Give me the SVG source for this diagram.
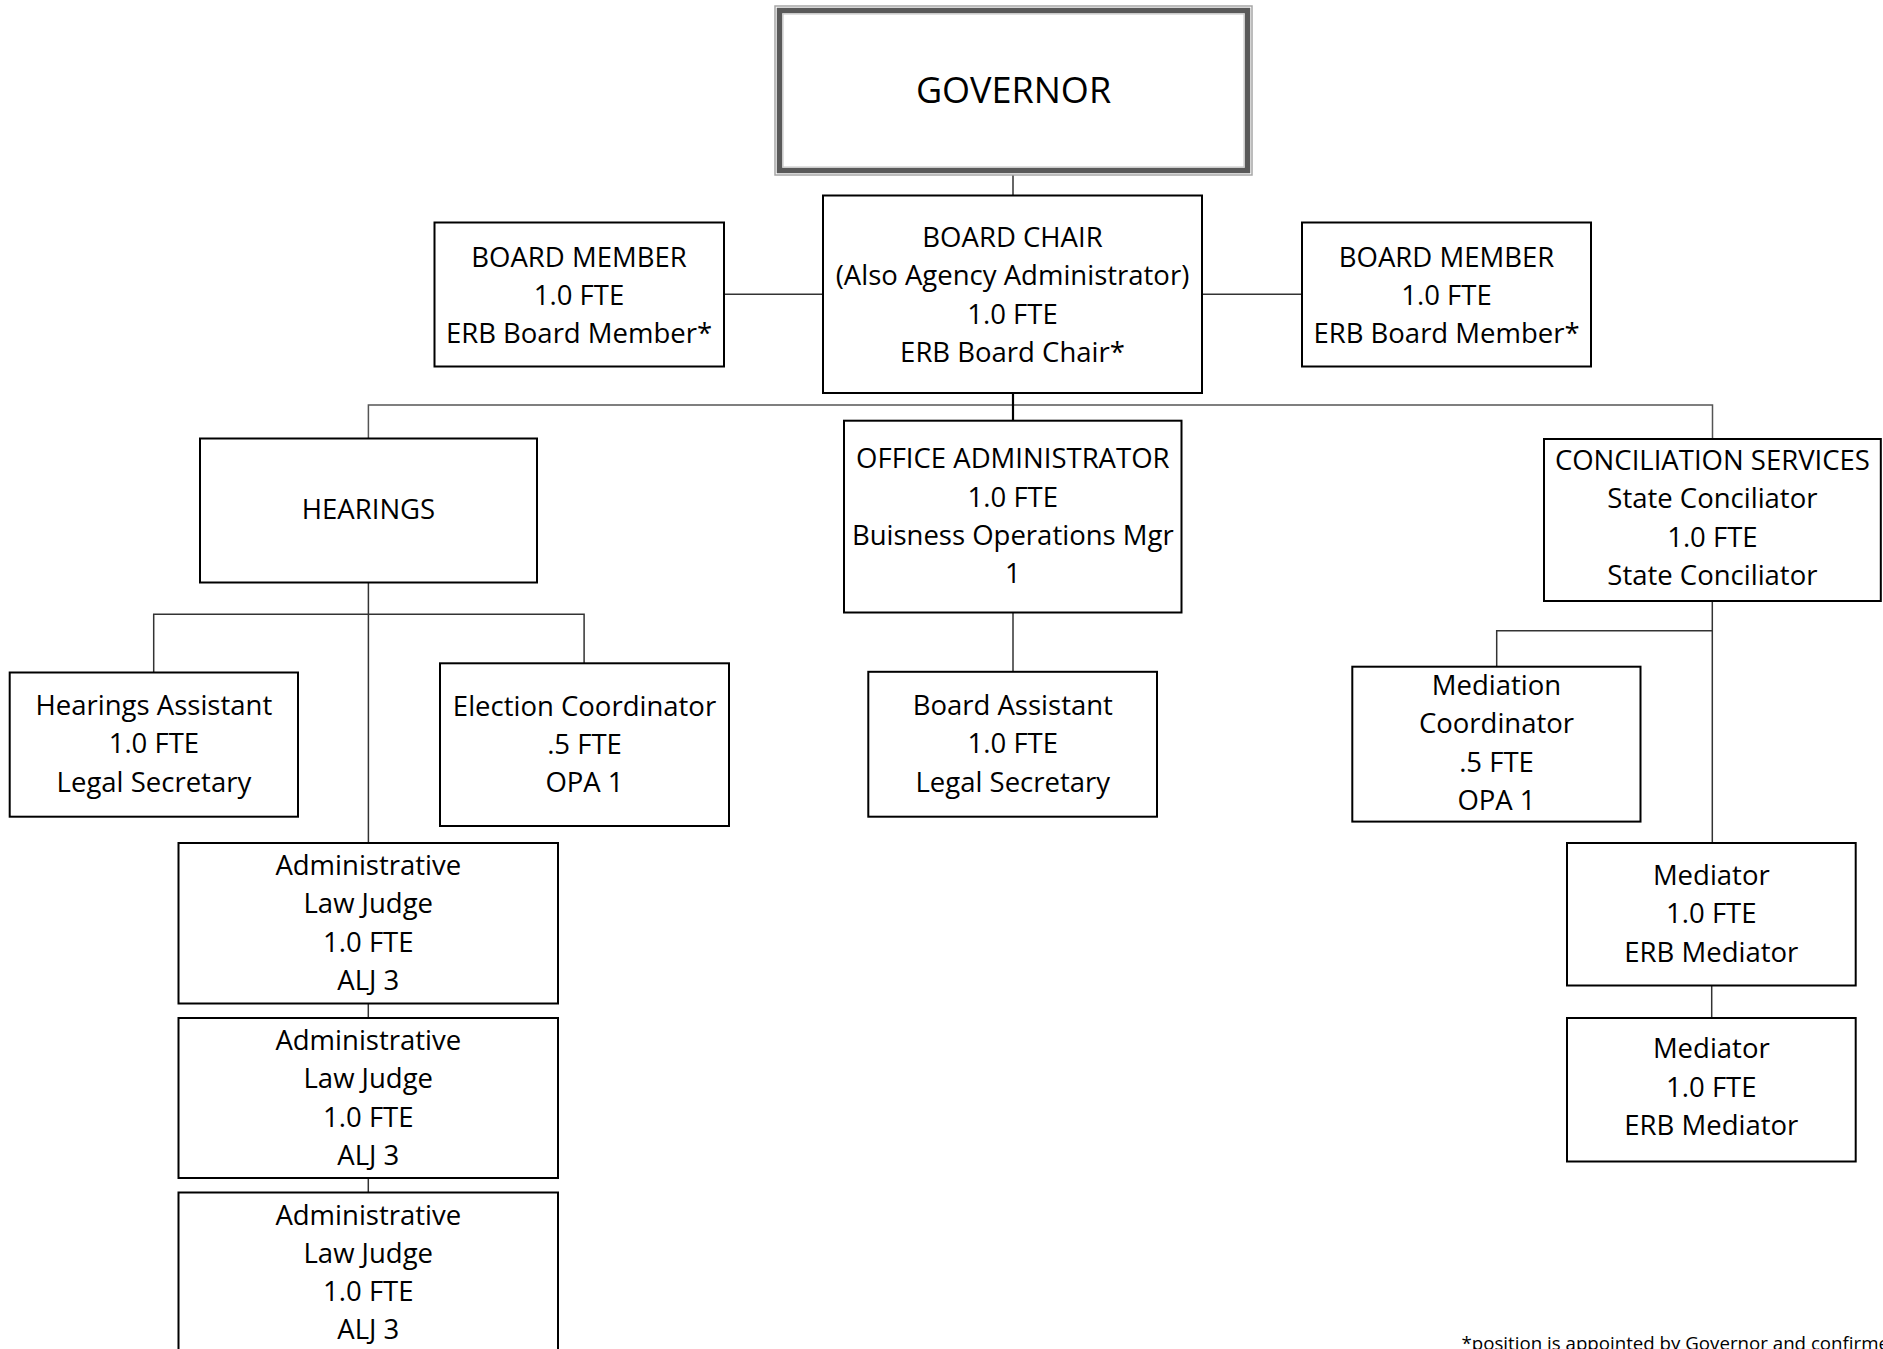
<svg xmlns="http://www.w3.org/2000/svg" width="1883" height="1349" viewBox="0 0 1883 1349">
<style>
  .box { fill: #ffffff; stroke: #000000; stroke-width: 2; }
  .t { font-family: "Open Sans", "Noto Sans", "Liberation Sans", sans-serif; font-size: 27.5px; fill: #000000; text-anchor: middle; }
  .c { fill: none; stroke: #333333; stroke-width: 1.5; }
  .cb { fill: none; stroke: #000000; stroke-width: 2.2; }
  .bus { fill: none; stroke: #555555; stroke-width: 1.5; }
</style>
<rect width="1883" height="1349" fill="#ffffff"/>
<g id="connectors">
  <path class="c" d="M1013,175 V195.5"/>
  <path class="c" d="M724,294.3 H823"/>
  <path class="c" d="M1202,294.3 H1302"/>
  <path class="bus" d="M368.4,438.5 V405 H1712.5 V439"/>
  <path class="cb" d="M1013,393 V420.7"/>
  <path class="c" d="M368.4,582.5 V843"/>
  <path class="c" d="M153.7,672.5 V614.3 H584.1 V663.3"/>
  <path class="c" d="M1013,612.5 V671.8"/>
  <path class="c" d="M1712.3,601 V843"/>
  <path class="c" d="M1712.3,630.7 H1496.7 V666.7"/>
  <path class="c" d="M368.3,1003.5 V1018"/>
  <path class="c" d="M368.3,1178 V1192.5"/>
  <path class="c" d="M1711.7,985.5 V1018"/>
</g>
<g id="governor">
  <rect x="775" y="6" width="477" height="169" fill="#ffffff" stroke="#a6a6a6" stroke-width="1.5"/>
  <rect x="779.5" y="10.5" width="468" height="160" fill="none" stroke="#595959" stroke-width="5.5"/>
  <rect x="783" y="14" width="461" height="153" fill="none" stroke="#c0c0c0" stroke-width="1"/>
  <text class="t" x="1013.5" y="103" style="font-size:36px">GOVERNOR</text>
</g>
<g id="board-member-left">
  <rect class="box" x="434.5" y="222.5" width="289.5" height="144"/>
  <text class="t" x="579" y="267">BOARD MEMBER</text>
  <text class="t" x="579" y="305">1.0 FTE</text>
  <text class="t" x="579" y="343">ERB Board Member*</text>
</g>
<g id="board-chair">
  <rect class="box" x="823" y="195.5" width="379" height="197.5"/>
  <text class="t" x="1012.5" y="247">BOARD CHAIR</text>
  <text class="t" x="1012.5" y="285.3">(Also Agency Administrator)</text>
  <text class="t" x="1012.5" y="323.6">1.0 FTE</text>
  <text class="t" x="1012.5" y="362">ERB Board Chair*</text>
</g>
<g id="board-member-right">
  <rect class="box" x="1302" y="222.5" width="289" height="144"/>
  <text class="t" x="1446.5" y="267">BOARD MEMBER</text>
  <text class="t" x="1446.5" y="305">1.0 FTE</text>
  <text class="t" x="1446.5" y="343">ERB Board Member*</text>
</g>
<g id="hearings">
  <rect class="box" x="200" y="438.5" width="337" height="144"/>
  <text class="t" x="368.5" y="519">HEARINGS</text>
</g>
<g id="office-administrator">
  <rect class="box" x="844" y="420.7" width="337.5" height="191.8"/>
  <text class="t" x="1012.8" y="468.3">OFFICE ADMINISTRATOR</text>
  <text class="t" x="1012.8" y="506.6">1.0 FTE</text>
  <text class="t" x="1012.8" y="544.9">Buisness Operations Mgr</text>
  <text class="t" x="1012.8" y="583.2">1</text>
</g>
<g id="conciliation-services">
  <rect class="box" x="1544" y="439" width="336.8" height="162"/>
  <text class="t" x="1712.4" y="470">CONCILIATION SERVICES</text>
  <text class="t" x="1712.4" y="508.3">State Conciliator</text>
  <text class="t" x="1712.4" y="546.6">1.0 FTE</text>
  <text class="t" x="1712.4" y="584.9">State Conciliator</text>
</g>
<g id="hearings-assistant">
  <rect class="box" x="9.7" y="672.5" width="288.3" height="144.2"/>
  <text class="t" x="153.9" y="715">Hearings Assistant</text>
  <text class="t" x="153.9" y="753.3">1.0 FTE</text>
  <text class="t" x="153.9" y="791.6">Legal Secretary</text>
</g>
<g id="election-coordinator">
  <rect class="box" x="440" y="663.3" width="289" height="162.7"/>
  <text class="t" x="584.5" y="715.5">Election Coordinator</text>
  <text class="t" x="584.5" y="753.8">.5 FTE</text>
  <text class="t" x="584.5" y="792">OPA 1</text>
</g>
<g id="board-assistant">
  <rect class="box" x="868.3" y="671.8" width="288.7" height="144.9"/>
  <text class="t" x="1012.8" y="715">Board Assistant</text>
  <text class="t" x="1012.8" y="753.3">1.0 FTE</text>
  <text class="t" x="1012.8" y="791.6">Legal Secretary</text>
</g>
<g id="mediation-coordinator">
  <rect class="box" x="1352.3" y="666.7" width="288.2" height="154.9"/>
  <text class="t" x="1496.5" y="695">Mediation</text>
  <text class="t" x="1496.5" y="733.3">Coordinator</text>
  <text class="t" x="1496.5" y="771.6">.5 FTE</text>
  <text class="t" x="1496.5" y="810">OPA 1</text>
</g>
<g id="alj-1">
  <rect class="box" x="178.5" y="843" width="379.5" height="160.5"/>
  <text class="t" x="368.3" y="875">Administrative</text>
  <text class="t" x="368.3" y="913.3">Law Judge</text>
  <text class="t" x="368.3" y="951.6">1.0 FTE</text>
  <text class="t" x="368.3" y="989.9">ALJ 3</text>
</g>
<g id="alj-2">
  <rect class="box" x="178.5" y="1018" width="379.5" height="160"/>
  <text class="t" x="368.3" y="1050">Administrative</text>
  <text class="t" x="368.3" y="1088.3">Law Judge</text>
  <text class="t" x="368.3" y="1126.6">1.0 FTE</text>
  <text class="t" x="368.3" y="1164.9">ALJ 3</text>
</g>
<g id="alj-3">
  <rect class="box" x="178.5" y="1192.5" width="379.5" height="165"/>
  <text class="t" x="368.3" y="1224.5">Administrative</text>
  <text class="t" x="368.3" y="1262.8">Law Judge</text>
  <text class="t" x="368.3" y="1301.1">1.0 FTE</text>
  <text class="t" x="368.3" y="1339.4">ALJ 3</text>
</g>
<g id="mediator-1">
  <rect class="box" x="1567" y="843" width="288.7" height="142.5"/>
  <text class="t" x="1711.3" y="885">Mediator</text>
  <text class="t" x="1711.3" y="923.3">1.0 FTE</text>
  <text class="t" x="1711.3" y="961.6">ERB Mediator</text>
</g>
<g id="mediator-2">
  <rect class="box" x="1567" y="1018" width="288.7" height="143.5"/>
  <text class="t" x="1711.3" y="1058.3">Mediator</text>
  <text class="t" x="1711.3" y="1096.6">1.0 FTE</text>
  <text class="t" x="1711.3" y="1134.9">ERB Mediator</text>
</g>
<g id="footnote">
  <text x="1461.5" y="1350" style="font-family:'Open Sans','Noto Sans','Liberation Sans',sans-serif;font-size:18.7px;fill:#000000">*position is appointed by Governor and confirme</text>
</g>
</svg>
